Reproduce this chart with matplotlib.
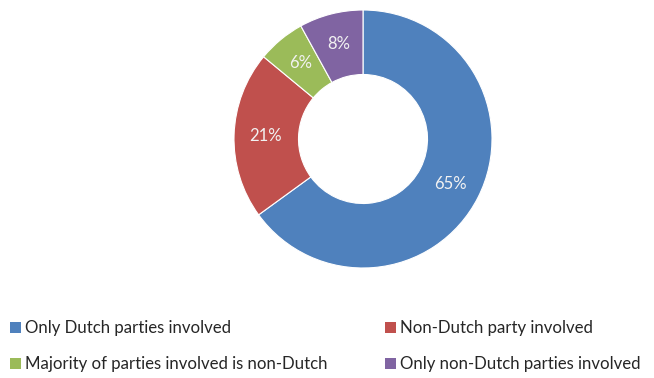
import matplotlib.pyplot as plt
from matplotlib.patches import Patch

# Data
labels = ['Only Dutch parties involved', 'Non-Dutch party involved',
          'Majority of parties involved is non-Dutch', 'Only non-Dutch parties involved']
shares = [65, 21, 6, 8]
colors = ['#4F81BD', '#C0504D', '#9BBB59', '#8064A2']

plt.rcParams['font.family'] = ['Lato', 'DejaVu Sans']

fig = plt.figure(figsize=(6.54, 3.78), dpi=100)
ax = fig.add_axes([234 / 654, 110 / 378, 258 / 654, 258 / 378])

wedges, texts, autotexts = ax.pie(
    shares, colors=colors, startangle=90, counterclock=False,
    autopct='%d%%', pctdistance=0.76, radius=1,
    wedgeprops=dict(width=0.5, edgecolor='white', linewidth=0.8),
    textprops=dict(color='#F2F2F2', fontsize=12))
ax.set_xlim(-1, 1)
ax.set_ylim(-1, 1)
ax.set_aspect('equal')

# legend: row 1 blue/red, row 2 green/purple (column-major fill)
handles = [Patch(facecolor=c, edgecolor='none') for c in colors]
order = [0, 2, 1, 3]
fig.legend([handles[i] for i in order], [labels[i] for i in order],
           ncol=2, loc='lower left', bbox_to_anchor=(0.0, -0.012),
           frameon=False, fontsize=12.1, handlelength=0.65, handleheight=0.65,
           handletextpad=0.25, columnspacing=3.4, labelspacing=1.2,
           borderpad=0.1, labelcolor='#262626')

fig.savefig('out.png', dpi=100)
